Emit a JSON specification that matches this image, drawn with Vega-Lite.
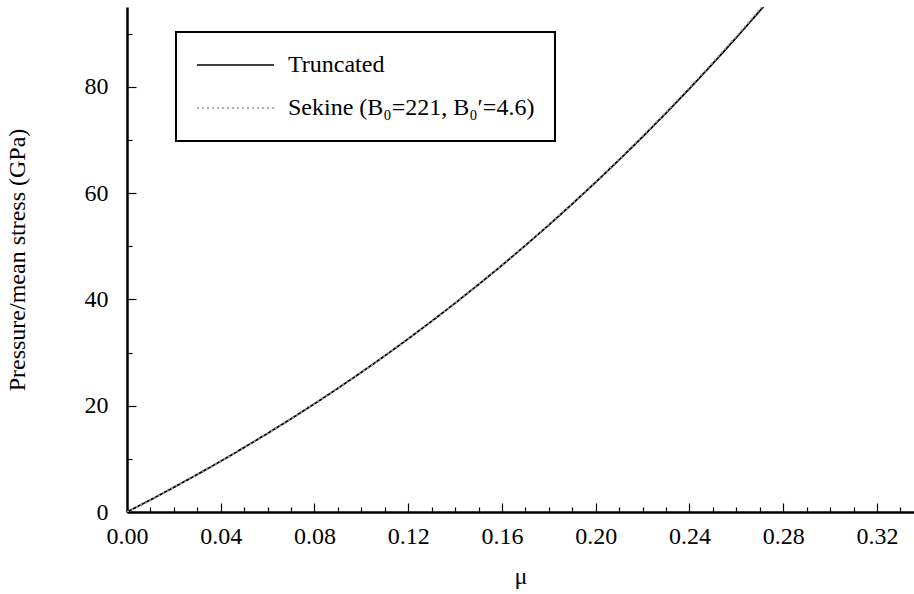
{
  "$schema": "https://vega.github.io/schema/vega-lite/v6.json",
  "width": 787,
  "height": 505,
  "autosize": {"type": "none"},
  "padding": {"left": 127, "top": 7, "right": 0, "bottom": 82},
  "background": "white",
  "config": {
    "view": {"stroke": null},
    "font": "Liberation Serif",
    "axis": {"labelFont": "Liberation Serif", "titleFont": "Liberation Serif", "labelColor": "black", "titleColor": "black", "tickColor": "black", "domainColor": "black", "grid": false}
  },
  "datasets": {
    "curves": [
      {"mu": 0.00, "p": 0.0, "series": "Truncated"},
      {"mu": 0.01, "p": 2.28, "series": "Truncated"},
      {"mu": 0.02, "p": 4.64, "series": "Truncated"},
      {"mu": 0.03, "p": 7.06, "series": "Truncated"},
      {"mu": 0.04, "p": 9.56, "series": "Truncated"},
      {"mu": 0.05, "p": 12.14, "series": "Truncated"},
      {"mu": 0.06, "p": 14.79, "series": "Truncated"},
      {"mu": 0.07, "p": 17.53, "series": "Truncated"},
      {"mu": 0.08, "p": 20.36, "series": "Truncated"},
      {"mu": 0.09, "p": 23.27, "series": "Truncated"},
      {"mu": 0.10, "p": 26.28, "series": "Truncated"},
      {"mu": 0.11, "p": 29.38, "series": "Truncated"},
      {"mu": 0.12, "p": 32.58, "series": "Truncated"},
      {"mu": 0.13, "p": 35.88, "series": "Truncated"},
      {"mu": 0.14, "p": 39.29, "series": "Truncated"},
      {"mu": 0.15, "p": 42.80, "series": "Truncated"},
      {"mu": 0.16, "p": 46.41, "series": "Truncated"},
      {"mu": 0.17, "p": 50.15, "series": "Truncated"},
      {"mu": 0.18, "p": 53.99, "series": "Truncated"},
      {"mu": 0.19, "p": 57.96, "series": "Truncated"},
      {"mu": 0.20, "p": 62.04, "series": "Truncated"},
      {"mu": 0.21, "p": 66.25, "series": "Truncated"},
      {"mu": 0.22, "p": 70.58, "series": "Truncated"},
      {"mu": 0.23, "p": 75.05, "series": "Truncated"},
      {"mu": 0.24, "p": 79.64, "series": "Truncated"},
      {"mu": 0.25, "p": 84.38, "series": "Truncated"},
      {"mu": 0.26, "p": 89.24, "series": "Truncated"},
      {"mu": 0.27, "p": 94.26, "series": "Truncated"},
      {"mu": 0.28, "p": 99.41, "series": "Truncated"},
      {"mu": 0.00, "p": 0.0, "series": "Sekine (B₀=221, B₀′=4.6)"},
      {"mu": 0.01, "p": 2.27, "series": "Sekine (B₀=221, B₀′=4.6)"},
      {"mu": 0.02, "p": 4.62, "series": "Sekine (B₀=221, B₀′=4.6)"},
      {"mu": 0.03, "p": 7.04, "series": "Sekine (B₀=221, B₀′=4.6)"},
      {"mu": 0.04, "p": 9.54, "series": "Sekine (B₀=221, B₀′=4.6)"},
      {"mu": 0.05, "p": 12.12, "series": "Sekine (B₀=221, B₀′=4.6)"},
      {"mu": 0.06, "p": 14.77, "series": "Sekine (B₀=221, B₀′=4.6)"},
      {"mu": 0.07, "p": 17.51, "series": "Sekine (B₀=221, B₀′=4.6)"},
      {"mu": 0.08, "p": 20.34, "series": "Sekine (B₀=221, B₀′=4.6)"},
      {"mu": 0.09, "p": 23.26, "series": "Sekine (B₀=221, B₀′=4.6)"},
      {"mu": 0.10, "p": 26.27, "series": "Sekine (B₀=221, B₀′=4.6)"},
      {"mu": 0.11, "p": 29.38, "series": "Sekine (B₀=221, B₀′=4.6)"},
      {"mu": 0.12, "p": 32.58, "series": "Sekine (B₀=221, B₀′=4.6)"},
      {"mu": 0.13, "p": 35.89, "series": "Sekine (B₀=221, B₀′=4.6)"},
      {"mu": 0.14, "p": 39.31, "series": "Sekine (B₀=221, B₀′=4.6)"},
      {"mu": 0.15, "p": 42.83, "series": "Sekine (B₀=221, B₀′=4.6)"},
      {"mu": 0.16, "p": 46.46, "series": "Sekine (B₀=221, B₀′=4.6)"},
      {"mu": 0.17, "p": 50.21, "series": "Sekine (B₀=221, B₀′=4.6)"},
      {"mu": 0.18, "p": 54.07, "series": "Sekine (B₀=221, B₀′=4.6)"},
      {"mu": 0.19, "p": 58.05, "series": "Sekine (B₀=221, B₀′=4.6)"},
      {"mu": 0.20, "p": 62.15, "series": "Sekine (B₀=221, B₀′=4.6)"},
      {"mu": 0.21, "p": 66.38, "series": "Sekine (B₀=221, B₀′=4.6)"},
      {"mu": 0.22, "p": 70.73, "series": "Sekine (B₀=221, B₀′=4.6)"},
      {"mu": 0.23, "p": 75.22, "series": "Sekine (B₀=221, B₀′=4.6)"},
      {"mu": 0.24, "p": 79.84, "series": "Sekine (B₀=221, B₀′=4.6)"},
      {"mu": 0.25, "p": 84.60, "series": "Sekine (B₀=221, B₀′=4.6)"},
      {"mu": 0.26, "p": 89.49, "series": "Sekine (B₀=221, B₀′=4.6)"},
      {"mu": 0.27, "p": 94.53, "series": "Sekine (B₀=221, B₀′=4.6)"},
      {"mu": 0.28, "p": 99.71, "series": "Sekine (B₀=221, B₀′=4.6)"}
    ]
  },
  "layer": [
    {
      "data": {"name": "curves"},
      "mark": {"type": "line", "clip": true, "strokeWidth": 1.8},
      "encoding": {
        "x": {
          "field": "mu", "type": "quantitative",
          "scale": {"domain": [0, 0.3358], "nice": false, "zero": false},
          "axis": {
            "title": "μ",
            "titleFontSize": 24, "titleFontWeight": "normal", "titlePadding": 12,
            "values": [0, 0.01, 0.02, 0.03, 0.04, 0.05, 0.06, 0.07, 0.08, 0.09, 0.1, 0.11, 0.12, 0.13, 0.14, 0.15, 0.16, 0.17, 0.18, 0.19, 0.2, 0.21, 0.22, 0.23, 0.24, 0.25, 0.26, 0.27, 0.28, 0.29, 0.3, 0.31, 0.32, 0.33],
            "labelExpr": "round(datum.value*100) % 4 == 0 ? format(datum.value, '.2f') : ''",
            "labelFontSize": 24, "labelPadding": 21, "labelOverlap": false, "labelFlush": false,
            "tickSize": {"condition": {"test": "round(datum.value*100) % 4 == 0", "value": -9}, "value": -5},
            "tickWidth": 1.2,
            "domainWidth": 2.5
          }
        },
        "y": {
          "field": "p", "type": "quantitative",
          "scale": {"domain": [0, 95], "nice": false, "zero": true},
          "axis": {
            "title": "Pressure/mean stress (GPa)",
            "titleFontSize": 24, "titleFontWeight": "normal", "titlePadding": 55,
            "values": [0, 5, 10, 15, 20, 25, 30, 35, 40, 45, 50, 55, 60, 65, 70, 75, 80, 85, 90],
            "labelExpr": "datum.value % 20 == 0 ? datum.value : ''",
            "labelFontSize": 24, "labelPadding": 28, "labelOverlap": false, "labelFlush": false,
            "tickSize": {"condition": {"test": "datum.value % 20 == 0", "value": -9}, "value": -5},
            "tickWidth": 1.2,
            "domainWidth": 2.5
          }
        },
        "color": {
          "field": "series", "type": "nominal",
          "scale": {"domain": ["Truncated", "Sekine (B₀=221, B₀′=4.6)"], "range": ["black", "#999999"]},
          "legend": {
            "title": null,
            "orient": "none", "legendX": 49, "legendY": 25,
            "strokeColor": "black", "fillColor": "white",
            "padding": 20, "rowPadding": 17, "clipHeight": 26,
            "labelFont": "Liberation Serif", "labelFontSize": 24, "labelColor": "black", "labelLimit": 400, "labelOffset": 13,
            "symbolType": "stroke", "symbolSize": 5929, "symbolStrokeWidth": 1.5,
            "encode": {"legend": {"update": {"strokeWidth": {"value": 2}}}}
          }
        },
        "strokeDash": {
          "field": "series", "type": "nominal",
          "scale": {"domain": ["Truncated", "Sekine (B₀=221, B₀′=4.6)"], "range": [[1, 0], [2, 3]]},
          "legend": null
        },
        "order": {"field": "mu", "type": "quantitative"}
      }
    },
    {
      "mark": {"type": "rule", "color": "black", "strokeWidth": 2.5},
      "encoding": {"y": {"datum": 95}}
    }
  ]
}
